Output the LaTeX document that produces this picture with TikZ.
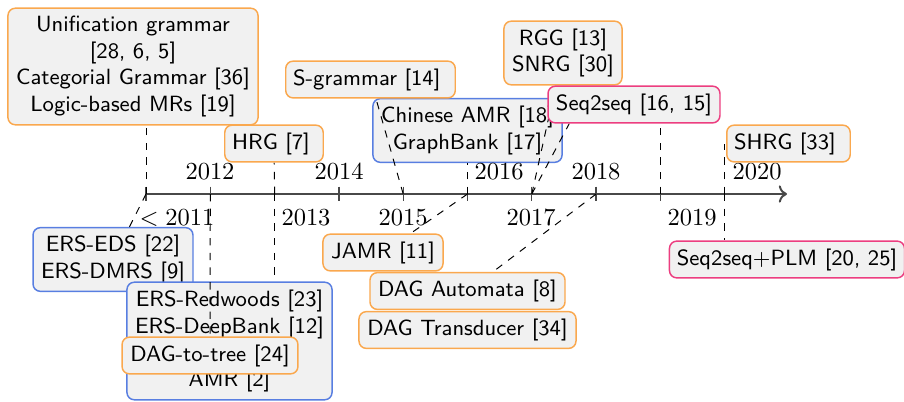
\documentclass[tikz,border=0pt]{standalone}
\usetikzlibrary{calc,arrows.meta}
\pgfdeclarelayer{under}
\pgfdeclarelayer{over}
\pgfsetlayers{under,main,over}
\definecolor{boxorange}{RGB}{250,168,78}
\definecolor{boxblue}{RGB}{88,126,225}
\definecolor{boxpink}{RGB}{236,62,128}
\definecolor{boxfill}{RGB}{241,241,241}
\definecolor{axisgray}{RGB}{72,72,72}
\tikzset{
  event/.style={draw, line width=0.6pt, fill=boxfill, rounded corners=3pt,
    font=\sffamily\small, inner xsep=3pt, inner ysep=3pt, align=center},
  grammar/.style={event, draw=boxorange},
  bank/.style={event, draw=boxblue},
  neural/.style={event, draw=boxpink},
  link/.style={dashed, line width=0.4pt},
  yearlabel/.style={inner sep=0pt},
}
\begin{document}
\begin{tikzpicture}[x=0.4082pt, y=-0.4082pt]
\useasboundingbox (0,0) rectangle (904,401);

% time axis with one tick per year
\foreach \yr/\x in {2011/146,2012/210.3,2013/274.6,2014/338.9,2015/403.2,
                    2016/467.5,2017/531.8,2018/596.1,2019/660.4,2020/724.7}
  \coordinate (t\yr) at (\x,194);
\coordinate (axisend) at (787,194);
\draw[axisgray, line width=0.8pt, ->] (t2011) -- (axisend);
\foreach \yr in {2011,...,2020}
  \draw[axisgray, line width=0.5pt] ([yshift=3pt]t\yr) -- ([yshift=-3pt]t\yr);

% year labels
\node[yearlabel] (y2011) at (177,218) {$<2011$};
\node[yearlabel] (y2012) at (210,172) {$2012$};
\node[yearlabel] (y2013) at (306,218) {$2013$};
\node[yearlabel] (y2014) at (339,172) {$2014$};
\node[yearlabel] (y2015) at (403,218) {$2015$};
\node[yearlabel] (y2016) at (499,172) {$2016$};
\node[yearlabel] (y2017) at (531,218) {$2017$};
\node[yearlabel] (y2018) at (596,172) {$2018$};
\node[yearlabel] (y2019) at (692,218) {$2019$};
\node[yearlabel] (y2020) at (757,172) {$2020$};

% boxes that sit below the connectors
\begin{pgfonlayer}{under}
\node[grammar, minimum width=102.1pt] (unif) at (133,66.5)
  {Unification grammar\\{[28, 6, 5]}\\Categorial Grammar [36]\\Logic-based MRs [19]};
\node[bank, minimum width=65.3pt] (eds) at (113,259.5) {ERS-EDS [22]\\ERS-DMRS [9]};
\node[bank, minimum width=83.7pt] (redw) at (229.5,341)
  {ERS-Redwoods [23]\\ERS-DeepBank [12]\\ \\AMR [2]};
\node[bank, minimum width=77.2pt] (chinese) at (467.5,130.5) {Chinese AMR [18]\\GraphBank [17]};
\end{pgfonlayer}

% boxes that sit above the connectors
\begin{pgfonlayer}{over}
\node[grammar, text width=34.2pt, align=left] (hrg) at (274,143.5) {HRG [7]};
\node[grammar, text width=63.2pt, align=left] (sgram) at (370.5,79.5) {S-grammar [14]};
\node[grammar, minimum width=48.2pt] (rgg) at (563,53) {RGG [13]\\SNRG [30]};
\node[neural, minimum width=70.2pt] (seq) at (634,104.5) {Seq2seq [16, 15]};
\node[grammar, text width=44.4pt, align=left] (shrg) at (788.5,143.5) {SHRG [33]};
\node[grammar, minimum width=71.8pt] (dagtree) at (210,355.5) {DAG-to-tree [24]};
\node[grammar, minimum width=49pt] (jamr) at (383,252.5) {JAMR [11]};
\node[grammar, minimum width=79.6pt] (dagauto) at (467.5,291) {DAG Automata [8]};
\node[grammar, minimum width=88.6pt] (dagtrans) at (467.5,330) {DAG Transducer [34]};
\node[neural, minimum width=94.7pt] (plm) at (787,259.5) {Seq2seq$+$PLM [20, 25]};
\end{pgfonlayer}

% dashed connectors from the years to the boxes
\draw[link] (t2011) -- (t2011 |- unif.south);
\draw[link] (t2011) -- (eds);
\draw[link] (t2012) -- (dagtree);
\draw[link] (t2013) -- (hrg);
\draw[link] (t2013) -- (t2013 |- redw.north);
\draw[link] (t2015) -- (sgram);
\draw[link] (t2016) -- (chinese);
\draw[link] (t2016) -- (jamr);
\draw[link] (t2017) -- (rgg);
\draw[link] (t2017) -- ($(seq.south west)+(22,0)$);
\draw[link] (t2018) -- (dagauto);
\draw[link] (t2019) -- (t2019 |- seq.south);
\draw[link] (t2020) -- (t2020 |- shrg.west);
\draw[link] (t2020) -- (t2020 |- plm.north);
\end{tikzpicture}
\end{document}
